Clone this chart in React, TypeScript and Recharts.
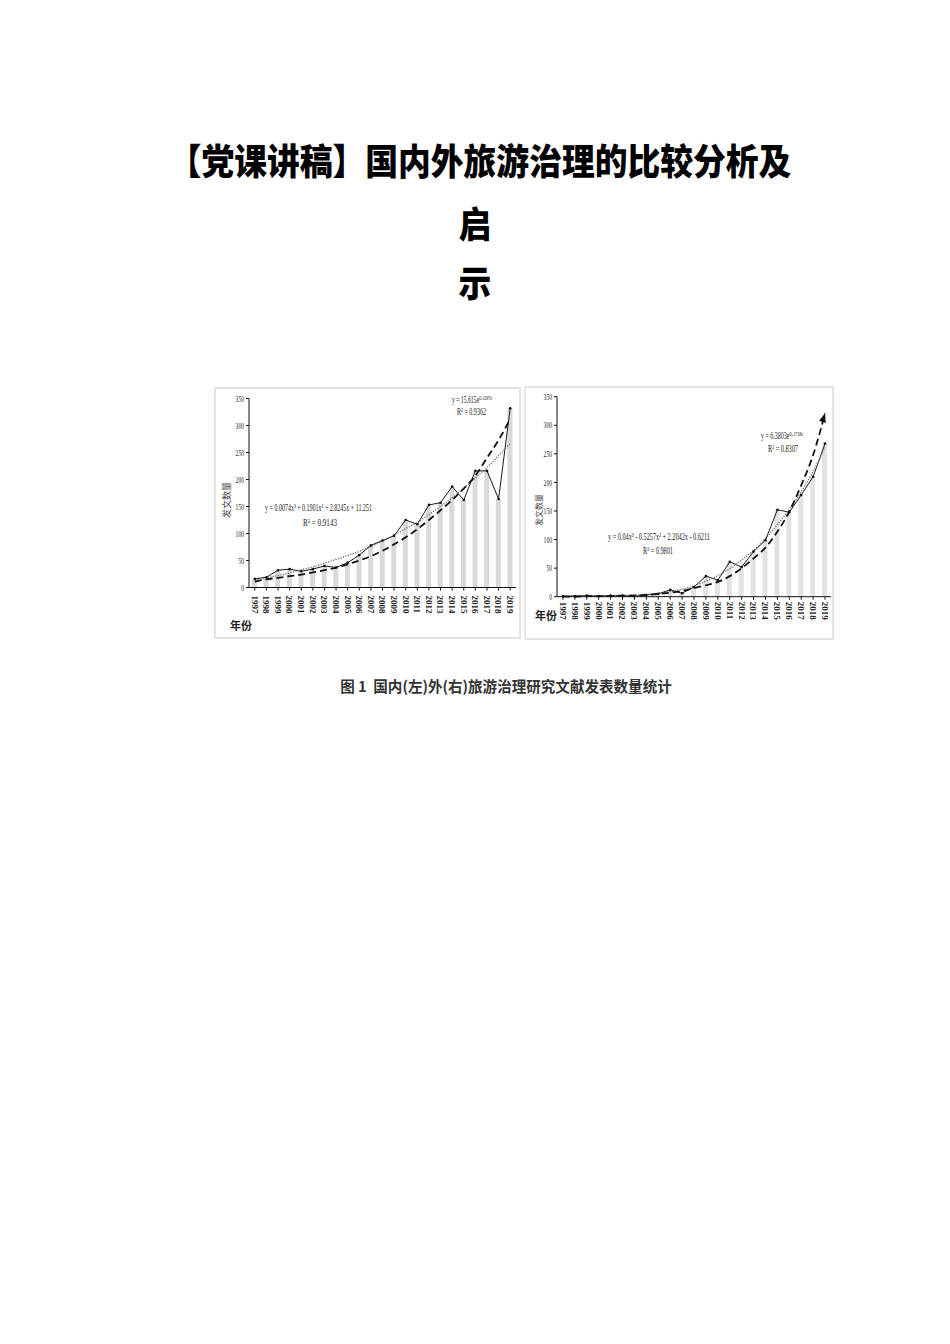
import React from "react";
import { Bar, ComposedChart, Line, XAxis, YAxis } from "recharts";

const years = [
  "1997", "1998", "1999", "2000", "2001", "2002", "2003", "2004",
  "2005", "2006", "2007", "2008", "2009", "2010", "2011", "2012",
  "2013", "2014", "2015", "2016", "2017", "2018", "2019",
];

// 国内 (left)
const domesticCounts = [16, 19, 32, 34, 30, 34, 40, 37, 46, 60, 78, 87, 96, 125, 117, 153, 157, 187, 162, 216, 216, 164, 332];
const domesticPolyFit = [14, 18, 22, 27, 33, 38, 45, 52, 59, 67, 76, 86, 97, 109, 121, 135, 150, 166, 184, 203, 222, 244, 267];
const domesticExpFit = [11, 15, 18, 21, 24, 28, 32, 37, 43, 50, 58, 68, 80, 93, 108, 125, 143, 162, 183, 207, 240, 273, 312];

// 国外 (right)
const foreignCounts = [1, 1, 2, 1, 2, 2, 1, 3, 5, 12, 6, 17, 36, 29, 61, 52, 79, 99, 152, 148, 178, 210, 268];
const foreignPolyFit = [1, 2, 2, 2, 2, 2, 3, 4, 6, 9, 13, 19, 27, 37, 49, 64, 81, 102, 126, 153, 184, 219, 262];
const foreignExpFit = [0, 0, 1, 1, 1, 2, 2, 3, 5, 7, 10, 15, 20, 26, 36, 50, 67, 86, 114, 149, 195, 248, 321];

const countTicks = [0, 50, 100, 150, 200, 250, 300, 350];

const serif = '"Liberation Serif", "DejaVu Serif", serif';
const cjk = '"Noto Sans CJK SC", "Noto Sans", sans-serif';

function buildRows(counts: number[], poly: number[], exp: number[]) {
  return years.map((year, i) => ({ year, count: counts[i], poly: poly[i], exp: exp[i] }));
}

function yearTick(offset: number) {
  return (props: any) => {
    const { x, y, payload } = props;
    return (
      <text
        x={x}
        y={y}
        dx={offset}
        dy="0.35em"
        transform={`rotate(90, ${x}, ${y})`}
        textAnchor="start"
        fontSize={9}
        fontWeight={700}
        fontFamily={serif}
        fill="#222"
      >
        {payload.value}
      </text>
    );
  };
}

// narrow, condensed count labels like the scanned figure
const countTick = (props: any) => {
  const { x, y, payload } = props;
  const s = String(payload.value);
  return (
    <text
      x={x}
      y={y}
      dy="0.35em"
      textAnchor="end"
      fontSize={9}
      fontFamily={serif}
      fill="#222"
      textLength={s.length * 2.8}
      lengthAdjust="spacingAndGlyphs"
    >
      {s}
    </text>
  );
};

const arrowEnd = (props: any) => {
  const { cx, cy, index } = props;
  if (index !== years.length - 1) return <g key={`d${index}`} />;
  return (
    <path
      key="arrow"
      d="M0,0 L-3.5,9 L3.5,9 Z"
      transform={`translate(${cx},${cy}) rotate(17)`}
      fill="#111"
    />
  );
};

type PanelProps = {
  rows: ReturnType<typeof buildRows>;
  left: number;
  top: number;
  width: number;
  height: number;
  margin: { top: number; right: number; left: number; bottom: number };
  yWidth: number;
  xHeight: number;
  tickOffset: number;
  barFill: string;
  arrow?: boolean;
};

function Panel(p: PanelProps) {
  return (
    <div
      style={{
        position: "absolute",
        left: p.left,
        top: p.top,
        width: p.width,
        height: p.height,
        boxShadow: "inset 0 0 0 2px #e4e4e4",
      }}
    >
      <ComposedChart width={p.width} height={p.height} data={p.rows} margin={p.margin}>
        <XAxis
          dataKey="year"
          height={p.xHeight}
          interval={0}
          tick={yearTick(p.tickOffset)}
          tickSize={3}
          tickMargin={3}
          axisLine={{ stroke: "#111" }}
          tickLine={{ stroke: "#111" }}
        />
        <YAxis
          width={p.yWidth}
          domain={[0, 350]}
          ticks={countTicks}
          interval={0}
          tickSize={3}
          tickMargin={2}
          tick={countTick}
          axisLine={{ stroke: "#111" }}
          tickLine={{ stroke: "#111" }}
        />
        <Bar dataKey="count" fill={p.barFill} barSize={5} isAnimationActive={false} />
        <Line
          type="linear"
          dataKey="count"
          stroke="#1a1a1a"
          strokeWidth={1}
          dot={{ r: 1.3, fill: "#111", stroke: "none" }}
          isAnimationActive={false}
        />
        <Line
          type="monotone"
          dataKey="poly"
          stroke="#666"
          strokeWidth={1.3}
          strokeDasharray="1.2 1.4"
          dot={false}
          isAnimationActive={false}
        />
        <Line
          type="monotone"
          dataKey="exp"
          stroke="#111"
          strokeWidth={1.8}
          strokeDasharray="7 4"
          dot={p.arrow ? arrowEnd : false}
          isAnimationActive={false}
        />
      </ComposedChart>
    </div>
  );
}

function Note(props: { x: number; y: number; w: number; text: string }) {
  return (
    <text
      x={props.x}
      y={props.y}
      textAnchor="middle"
      textLength={props.w}
      lengthAdjust="spacingAndGlyphs"
      fontSize={10}
      fontFamily={serif}
      fill="#222"
    >
      {props.text}
    </text>
  );
}

export default function App() {
  const domesticRows = buildRows(domesticCounts, domesticPolyFit, domesticExpFit);
  const foreignRows = buildRows(foreignCounts, foreignPolyFit, foreignExpFit);

  const heading = {
    position: "absolute" as const,
    left: 480,
    fontFamily: cjk,
    fontWeight: 900,
    fontSize: 36,
    lineHeight: "36px",
    whiteSpace: "nowrap" as const,
    color: "#000",
    transform: "translate(-50%, -50%) scaleX(0.91)",
  };

  return (
    <div style={{ position: "absolute", left: 0, top: 0, width: 950, height: 1344, background: "#fff" }}>
      <div style={{ ...heading, top: 159 }}>【党课讲稿】国内外旅游治理的比较分析及</div>
      <div style={{ ...heading, left: 475, top: 222 }}>启</div>
      <div style={{ ...heading, left: 475, top: 281 }}>示</div>

      <Panel
        rows={domesticRows}
        left={214}
        top={387}
        width={307}
        height={252}
        margin={{ top: 11.5, right: 5, left: 0, bottom: 0 }}
        yWidth={35}
        xHeight={51.5}
        tickOffset={2}
        barFill="#d9d9d9"
      />
      <Panel
        rows={foreignRows}
        left={524}
        top={386}
        width={310}
        height={254}
        margin={{ top: 10.7, right: 3, left: 0, bottom: 0 }}
        yWidth={33}
        xHeight={43.3}
        tickOffset={-1}
        barFill="#e2e2e2"
        arrow
      />

      <svg
        width={950}
        height={1344}
        style={{ position: "absolute", left: 0, top: 0, pointerEvents: "none" }}
      >
        <Note x={318.5} y={510.5} w={107} text="y = 0.0074x³ + 0.1901x² + 2.8245x + 11.251" />
        <Note x={320} y={525.5} w={34} text="R² = 0.9143" />
        <Note x={472} y={402.5} w={40} text="y = 15.615e⁰·¹²⁹⁷ˣ" />
        <Note x={471.5} y={415} w={29} text="R² = 0.9362" />

        <Note x={659} y={540} w={102} text="y = 0.04x³ - 0.5257x² + 2.2042x - 0.6211" />
        <Note x={658} y={553.5} w={30} text="R² = 0.9801" />
        <Note x={782} y={438.5} w={42} text="y = 6.3803e⁰·¹⁷¹⁸ˣ" />
        <Note x={783} y={452} w={30} text="R² = 0.8307" />

        <text
          x={227}
          y={500}
          transform="rotate(-90, 227, 500)"
          textAnchor="middle"
          dy="0.35em"
          fontSize={9}
          fontFamily={cjk}
          fill="#444"
        >
          发文数量
        </text>
        <text
          x={539}
          y={510}
          transform="rotate(-90, 539, 510)"
          textAnchor="middle"
          dy="0.35em"
          fontSize={8}
          fontFamily={cjk}
          fill="#444"
        >
          发文数量
        </text>
        <text x={241} y={630} textAnchor="middle" fontSize={11} fontWeight={700} fontFamily={cjk} fill="#222">
          年份
        </text>
        <text x={546} y={620} textAnchor="middle" fontSize={11} fontWeight={700} fontFamily={cjk} fill="#222">
          年份
        </text>
      </svg>

      <div
        style={{
          position: "absolute",
          left: 506,
          top: 685,
          transform: "translate(-50%, -50%) scaleX(0.97)",
          fontFamily: cjk,
          fontWeight: 700,
          fontSize: 15,
          lineHeight: "15px",
          whiteSpace: "pre",
          color: "#333",
        }}
      >
        图 1  国内(左)外(右)旅游治理研究文献发表数量统计
      </div>
    </div>
  );
}
